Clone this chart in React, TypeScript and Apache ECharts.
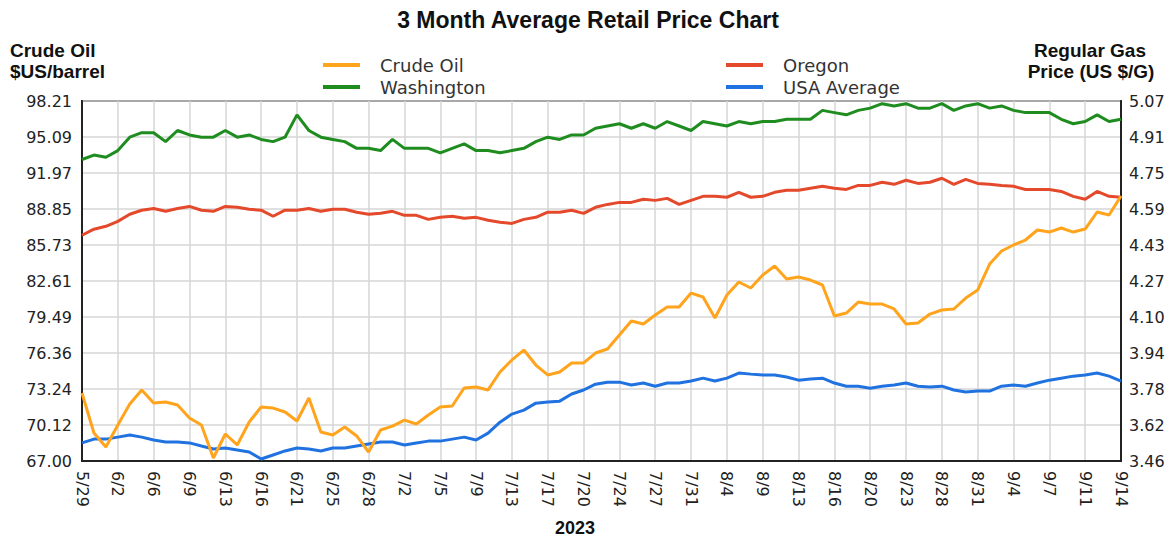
import React, { useEffect, useRef } from "react";
import * as echarts from "echarts";

const tickLabels = [
  "5/29", "6/2", "6/6", "6/9", "6/13", "6/16", "6/21", "6/25", "6/28", "7/2",
  "7/5", "7/9", "7/13", "7/17", "7/20", "7/24", "7/27", "7/31", "8/4", "8/9",
  "8/13", "8/16", "8/20", "8/23", "8/28", "8/31", "9/4", "9/7", "9/11", "9/14",
];
const pointsPerTick = 3;

const crudeOil = [
  72.90, 69.43, 68.21, 70.12, 71.94, 73.16, 72.03, 72.12, 71.85, 70.73,
  70.12, 67.26, 69.34, 68.39, 70.38, 71.68, 71.59, 71.25, 70.47, 72.46,
  69.51, 69.25, 69.95, 69.17, 67.78, 69.69, 70.03, 70.55, 70.21, 70.99,
  71.68, 71.77, 73.33, 73.42, 73.16, 74.72, 75.76, 76.62, 75.32, 74.46,
  74.72, 75.50, 75.50, 76.36, 76.71, 77.92, 79.14, 78.88, 79.66, 80.35,
  80.35, 81.56, 81.22, 79.40, 81.39, 82.52, 82.00, 83.13, 83.91, 82.78,
  82.95, 82.69, 82.26, 79.57, 79.83, 80.78, 80.61, 80.61, 80.18, 78.88,
  78.96, 79.74, 80.09, 80.18, 81.13, 81.82, 84.08, 85.21, 85.73, 86.16,
  87.03, 86.85, 87.20, 86.85, 87.11, 88.59, 88.33, 89.97,
];

const washington = [
  4.81, 4.83, 4.82, 4.85, 4.91, 4.93, 4.93, 4.89, 4.94, 4.92,
  4.91, 4.91, 4.94, 4.91, 4.92, 4.90, 4.89, 4.91, 5.01, 4.94,
  4.91, 4.90, 4.89, 4.86, 4.86, 4.85, 4.90, 4.86, 4.86, 4.86,
  4.84, 4.86, 4.88, 4.85, 4.85, 4.84, 4.85, 4.86, 4.89, 4.91,
  4.90, 4.92, 4.92, 4.95, 4.96, 4.97, 4.95, 4.97, 4.95, 4.98,
  4.96, 4.94, 4.98, 4.97, 4.96, 4.98, 4.97, 4.98, 4.98, 4.99,
  4.99, 4.99, 5.03, 5.02, 5.01, 5.03, 5.04, 5.06, 5.05, 5.06,
  5.04, 5.04, 5.06, 5.03, 5.05, 5.06, 5.04, 5.05, 5.03, 5.02,
  5.02, 5.02, 4.99, 4.97, 4.98, 5.01, 4.98, 4.99,
];

const oregon = [
  4.471, 4.498, 4.511, 4.533, 4.565, 4.583, 4.591, 4.578, 4.591, 4.600,
  4.583, 4.578, 4.600, 4.596, 4.587, 4.583, 4.556, 4.583, 4.583, 4.591,
  4.578, 4.587, 4.587, 4.574, 4.565, 4.569, 4.578, 4.560, 4.560, 4.542,
  4.551, 4.556, 4.547, 4.551, 4.538, 4.529, 4.524, 4.542, 4.551, 4.574,
  4.574, 4.583, 4.569, 4.596, 4.609, 4.618, 4.618, 4.632, 4.627, 4.636,
  4.609, 4.627, 4.645, 4.645, 4.641, 4.663, 4.641, 4.645, 4.663, 4.672,
  4.672, 4.681, 4.690, 4.681, 4.676, 4.694, 4.694, 4.708, 4.699, 4.717,
  4.703, 4.708, 4.726, 4.699, 4.721, 4.703, 4.699, 4.694, 4.690, 4.676,
  4.676, 4.676, 4.667, 4.645, 4.632, 4.667, 4.645, 4.641,
];

const usaAverage = [
  3.541, 3.558, 3.558, 3.567, 3.576, 3.567, 3.554, 3.545, 3.545, 3.541,
  3.527, 3.514, 3.518, 3.509, 3.500, 3.469, 3.487, 3.505, 3.518, 3.514,
  3.505, 3.518, 3.518, 3.527, 3.536, 3.545, 3.545, 3.532, 3.541, 3.549,
  3.549, 3.558, 3.567, 3.554, 3.585, 3.634, 3.670, 3.688, 3.719, 3.724,
  3.728, 3.760, 3.778, 3.804, 3.813, 3.813, 3.800, 3.809, 3.795, 3.809,
  3.809, 3.818, 3.831, 3.818, 3.831, 3.854, 3.849, 3.845, 3.845, 3.836,
  3.822, 3.827, 3.831, 3.809, 3.795, 3.795, 3.786, 3.795, 3.800, 3.809,
  3.795, 3.791, 3.795, 3.778, 3.769, 3.773, 3.773, 3.795, 3.800, 3.795,
  3.809, 3.822, 3.831, 3.840, 3.845, 3.854, 3.840, 3.818,
];

const categories: string[] = crudeOil.map((_, i) =>
  i % pointsPerTick === 0
    ? tickLabels[i / pointsPerTick]
    : tickLabels[Math.floor(i / pointsPerTick)] + "+" + (i % pointsPerTick)
);

const fmt2 = (v: number) => (Math.round(v * 100 + 1e-6) / 100).toFixed(2);

const tickFont = "DejaVu Sans";
const labelColor = "#222";
const gridColor = "#d6d6d6";

export default function App() {
  const ref = useRef<HTMLDivElement>(null);
  useEffect(() => {
    if (!ref.current) return;
    const chart = echarts.init(ref.current, null, { renderer: "svg" });
    const legendText = {
      fontFamily: tickFont,
      fontSize: 18,
      color: "#333",
      lineHeight: 20,
      padding: [0, 0, 0, 15],
    };
    const legendBase = {
      orient: "vertical",
      top: 55,
      padding: 0,
      icon: "rect",
      itemWidth: 37,
      itemHeight: 4,
      itemGap: 2,
      selectedMode: false,
      textStyle: legendText,
    };
    chart.setOption({
      animation: false,
      backgroundColor: "#fff",
      grid: {
        left: 82,
        right: 50,
        top: 101,
        bottom: 79,
        show: true,
        borderColor: "#222",
        borderWidth: 2,
        backgroundColor: "transparent",
      },
      legend: [
        { ...legendBase, data: ["Crude Oil", "Washington"], left: 323 },
        { ...legendBase, data: ["Oregon", "USA Average"], left: 726 },
      ],
      xAxis: {
        type: "category",
        data: categories,
        boundaryGap: false,
        axisLine: { show: true, lineStyle: { color: "#222", width: 2 } },
        axisTick: { show: false },
        axisLabel: {
          interval: pointsPerTick - 1,
          rotate: -90,
          margin: 10,
          fontFamily: tickFont,
          fontSize: 16,
          color: labelColor,
        },
        splitLine: {
          show: true,
          interval: pointsPerTick - 1,
          lineStyle: { color: gridColor, width: 1.5 },
        },
      },
      yAxis: [
        {
          type: "value",
          position: "left",
          min: 67,
          max: 98.213,
          interval: 3.1213,
          axisLine: { show: true, lineStyle: { color: "#222", width: 2 } },
          axisTick: { show: false },
          axisLabel: {
            formatter: fmt2,
            margin: 10,
            fontFamily: tickFont,
            fontSize: 16,
            color: labelColor,
          },
          splitLine: { show: true, lineStyle: { color: gridColor, width: 1.5 } },
        },
        {
          type: "value",
          position: "right",
          min: 3.46,
          max: 5.072,
          interval: 0.1612,
          axisLine: { show: true, lineStyle: { color: "#222", width: 2 } },
          axisTick: { show: false },
          axisLabel: {
            formatter: fmt2,
            margin: 8,
            fontFamily: tickFont,
            fontSize: 16,
            color: labelColor,
          },
          splitLine: { show: false },
        },
      ],
      series: [
        {
          name: "Crude Oil",
          type: "line",
          yAxisIndex: 0,
          data: crudeOil,
          symbol: "none",
          lineStyle: { width: 3, color: "#FFA41C" },
          itemStyle: { color: "#FFA41C" },
          z: 5,
        },
        {
          name: "Oregon",
          type: "line",
          yAxisIndex: 1,
          data: oregon,
          symbol: "none",
          lineStyle: { width: 3, color: "#E4492B" },
          itemStyle: { color: "#E4492B" },
        },
        {
          name: "Washington",
          type: "line",
          yAxisIndex: 1,
          data: washington,
          symbol: "none",
          lineStyle: { width: 3, color: "#1E8C1E" },
          itemStyle: { color: "#1E8C1E" },
        },
        {
          name: "USA Average",
          type: "line",
          yAxisIndex: 1,
          data: usaAverage,
          symbol: "none",
          lineStyle: { width: 3, color: "#1F72E0" },
          itemStyle: { color: "#1F72E0" },
        },
      ],
      graphic: [
        {
          type: "text",
          x: 588,
          y: 20,
          style: {
            text: "3 Month Average Retail Price Chart",
            font: "bold 23px 'Liberation Sans', Arial, sans-serif",
            fill: "#111",
            align: "center",
            verticalAlign: "middle",
          },
        },
        {
          type: "text",
          x: 10,
          y: 50,
          style: {
            text: "Crude Oil",
            font: "bold 19px 'Liberation Sans', Arial, sans-serif",
            fill: "#111",
            align: "left",
            verticalAlign: "middle",
          },
        },
        {
          type: "text",
          x: 10,
          y: 71,
          style: {
            text: "$US/barrel",
            font: "bold 19px 'Liberation Sans', Arial, sans-serif",
            fill: "#111",
            align: "left",
            verticalAlign: "middle",
          },
        },
        {
          type: "text",
          x: 1090,
          y: 50,
          style: {
            text: "Regular Gas",
            font: "bold 19px 'Liberation Sans', Arial, sans-serif",
            fill: "#111",
            align: "center",
            verticalAlign: "middle",
          },
        },
        {
          type: "text",
          x: 1091,
          y: 71,
          style: {
            text: "Price (US $/G)",
            font: "bold 19px 'Liberation Sans', Arial, sans-serif",
            fill: "#111",
            align: "center",
            verticalAlign: "middle",
          },
        },
        {
          type: "text",
          x: 575,
          y: 528,
          style: {
            text: "2023",
            font: "bold 18px 'Liberation Sans', Arial, sans-serif",
            fill: "#111",
            align: "center",
            verticalAlign: "middle",
          },
        },
      ],
    });
    return () => chart.dispose();
  }, []);
  return (
    <div
      ref={ref}
      style={{ position: "fixed", left: 0, top: 0, width: 1171, height: 540 }}
    />
  );
}
